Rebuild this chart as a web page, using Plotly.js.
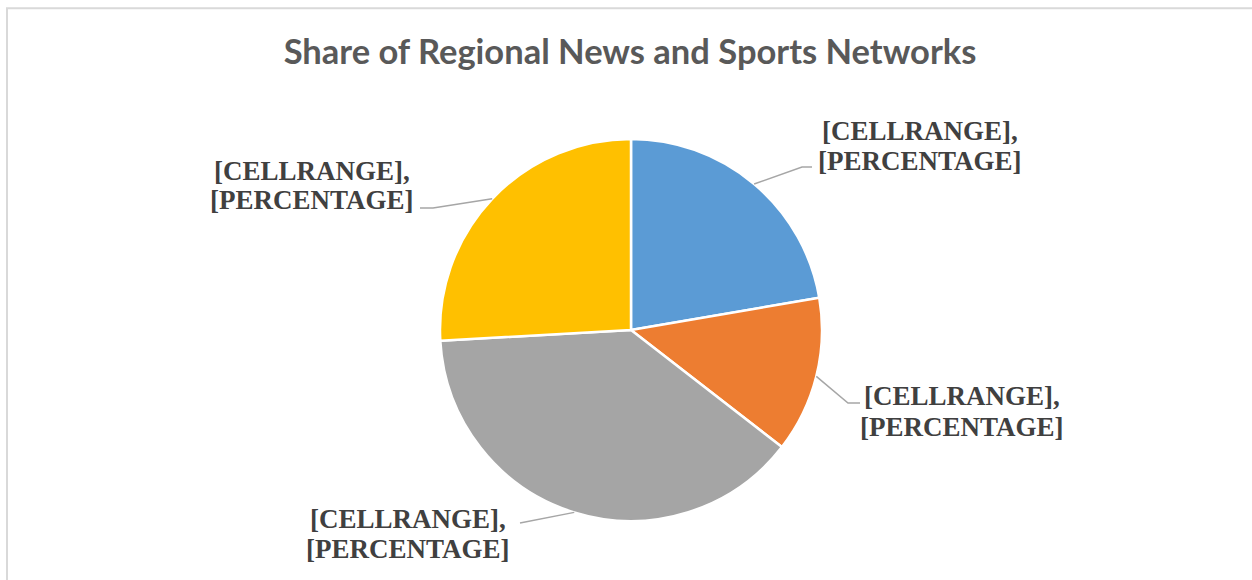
<!DOCTYPE html>
<html>
<head>
<meta charset="utf-8">
<script src="https://cdn.plot.ly/plotly-3.0.1.min.js"></script>
<style>
  html, body { margin: 0; padding: 0; background: #ffffff; }
  #chart { width: 1252px; height: 580px; }
</style>
</head>
<body>
<div id="chart"></div>
<script>
// ---- data ----
const categories = ['Network A', 'Network B', 'Network C', 'Network D'];
const shares = [22.3, 13.2, 38.6, 25.9];
const labelLine1 = ['[CELLRANGE],', '[CELLRANGE],', '[CELLRANGE],', '[CELLRANGE],'];
const labelLine2 = ['[PERCENTAGE]', '[PERCENTAGE]', '[PERCENTAGE]', '[PERCENTAGE]'];
const sliceColors = ['#5B9BD5', '#ED7D31', '#A5A5A5', '#FFC000'];

// ---- layout config (pixels) ----
const W = 1252, H = 580;
const CX = 631, CY = 330, R = 191;
// label text centres (line 1 / line 2) and leader elbow points
const labelPos = [
  {x: 920, y1: 131, y2: 161, elbow: [802, 167], end: [812, 167]},
  {x: 962, y1: 396, y2: 427, elbow: [848, 403], end: [860, 403]},
  {x: 408, y1: 519, y2: 549, elbow: [520, 523], end: [520, 523]},
  {x: 312, y1: 171, y2: 200, elbow: [433, 208], end: [420, 208]}
];

const px = x => x / W;
const py = y => 1 - y / H;

const total = shares.reduce((a, b) => a + b, 0);
let cum = 0;
const annotations = [];
const shapes = [];

// chart frame border
shapes.push({
  type: 'rect', xref: 'paper', yref: 'paper',
  x0: px(7), y0: py(8.3), x1: px(W + 20), y1: py(H + 20),
  line: {color: '#d9d9d9', width: 2}, fillcolor: 'rgba(0,0,0,0)', layer: 'below'
});

shares.forEach((v, i) => {
  const mid = (cum + v / 2) / total * 2 * Math.PI;
  cum += v;
  const ax = CX + R * Math.sin(mid);
  const ay = CY - R * Math.cos(mid);
  const lp = labelPos[i];
  const path = 'M ' + px(ax) + ',' + py(ay) +
               ' L ' + px(lp.elbow[0]) + ',' + py(lp.elbow[1]) +
               ' L ' + px(lp.end[0]) + ',' + py(lp.end[1]);
  shapes.push({
    type: 'path', xref: 'paper', yref: 'paper', path: path,
    line: {color: '#a6a6a6', width: 1.5}
  });
  const font = {family: 'Liberation Serif, Times New Roman, serif', size: 27, color: '#404040'};
  annotations.push({
    xref: 'paper', yref: 'paper', x: px(lp.x), y: py(lp.y1),
    xanchor: 'center', yanchor: 'middle', showarrow: false,
    text: '<b>' + labelLine1[i] + '</b>', font: font
  });
  annotations.push({
    xref: 'paper', yref: 'paper', x: px(lp.x), y: py(lp.y2),
    xanchor: 'center', yanchor: 'middle', showarrow: false,
    text: '<b>' + labelLine2[i] + '</b>', font: font
  });
});

const trace = {
  type: 'pie',
  labels: categories,
  values: shares,
  sort: false,
  direction: 'clockwise',
  rotation: 0,
  textinfo: 'none',
  hoverinfo: 'label+percent',
  marker: {colors: sliceColors, line: {color: '#ffffff', width: 2.5}},
  domain: {x: [px(CX - R), px(CX + R)], y: [py(CY + R), py(CY - R)]},
  showlegend: false
};

const layout = {
  width: W, height: H,
  margin: {l: 0, r: 0, t: 0, b: 0},
  paper_bgcolor: '#ffffff',
  title: {
    text: '<b>Share of Regional News and Sports Networks</b>',
    x: 630 / W, xanchor: 'center',
    y: 1 - 52 / H, yanchor: 'middle',
    font: {family: 'Lato, Open Sans, sans-serif', size: 34.5, color: '#595959'}
  },
  showlegend: false,
  annotations: annotations,
  shapes: shapes
};

Plotly.newPlot('chart', [trace], layout, {displayModeBar: false, staticPlot: true});
</script>
</body>
</html>
